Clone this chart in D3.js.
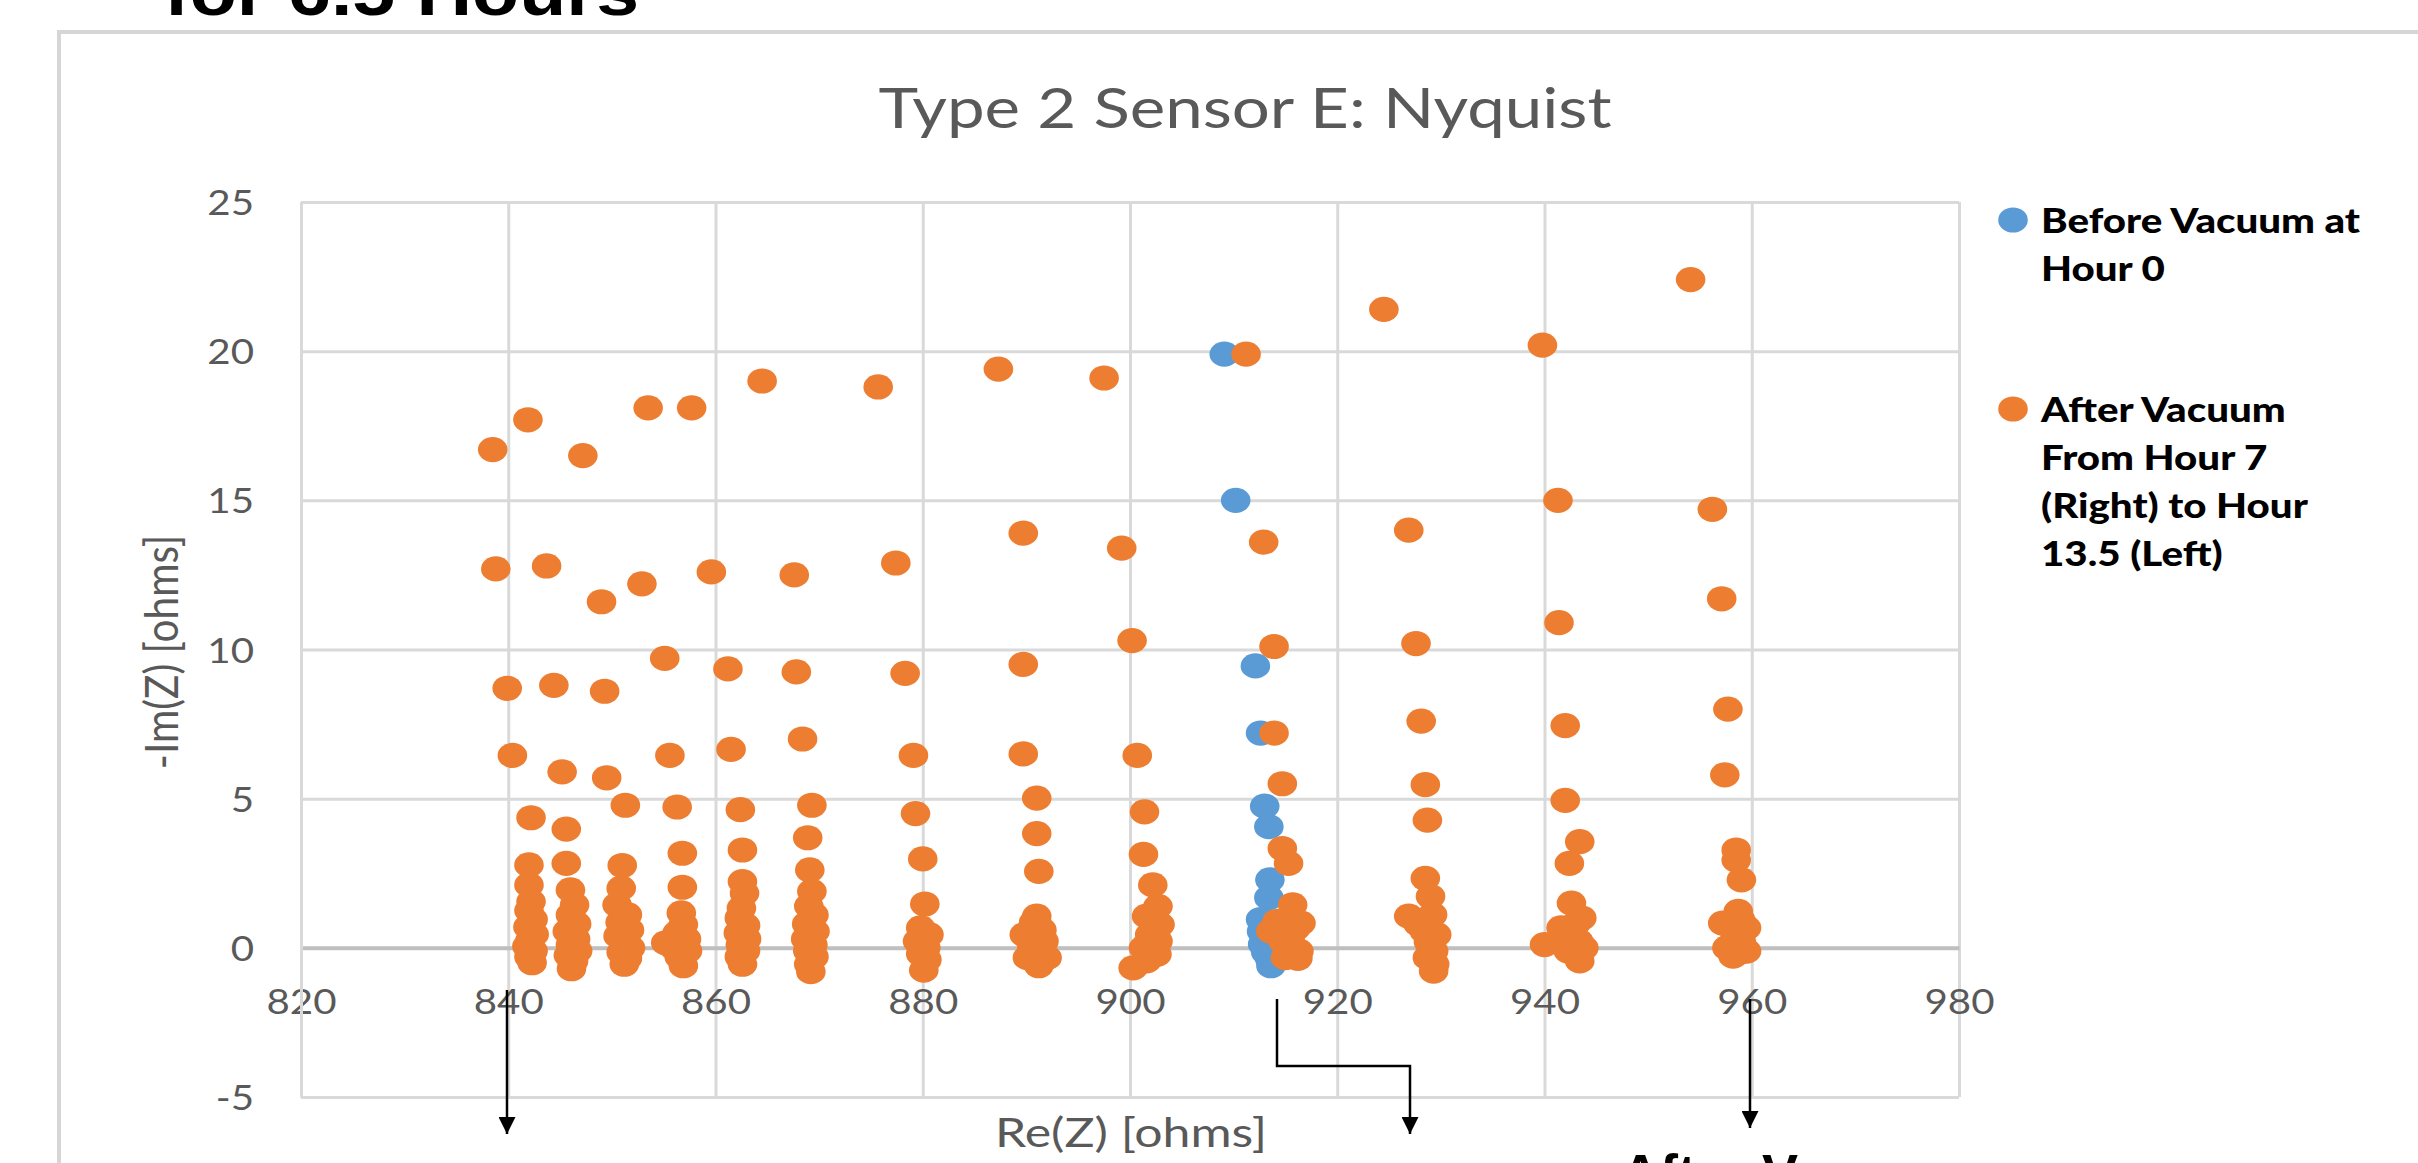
<!DOCTYPE html>
<html>
<head>
<meta charset="utf-8">
<script src="https://cdn.jsdelivr.net/npm/d3@7"></script>
<style>
  body { margin: 0; background: #fff; overflow: hidden; }
  text { font-family: Lato, "Open Sans", sans-serif; }
</style>
</head>
<body>
<svg id="chart" width="2418" height="1163"></svg>
<script>
// ---- data ----
const xTicks = [820, 840, 860, 880, 900, 920, 940, 960, 980];
const yTicks = [-5, 0, 5, 10, 15, 20, 25];
const seriesLabels = [
  ["Before Vacuum at", "Hour 0"],
  ["After Vacuum", "From Hour 7", "(Right) to Hour", "13.5 (Left)"]
];

// [Re(Z), -Im(Z)]
const beforeVacuum = [
  [909.1, 19.9], [910.2, 15.0], [912.1, 9.45], [912.6, 7.2], [913.0, 4.75], [913.4, 4.06],
  [913.5, 2.28], [913.4, 1.68], [912.6, 0.95], [912.7, 0.55], [912.8, 0.12], [913.1, -0.15],
  [913.5, -0.38], [913.6, -0.6]
];

// one sweep per line, left (hour 13.5) to right (hour 7)
const afterVacuum = [
  [838.5,16.7],[838.8,12.7],[839.9,8.7],[840.4,6.45],[842.2,4.36],[842.0,2.78],[842.0,2.11],[842.2,1.55],[842.0,1.25],[842.4,0.95],[841.9,0.7],[842.5,0.45],[842.1,0.25],[841.8,0.05],[842.4,-0.1],[842.0,-0.3],[842.3,-0.5],
  [841.9,17.7],[843.7,12.8],[844.4,8.8],[845.2,5.9],[845.6,3.98],[845.6,2.83],[846.0,1.94],[846.4,1.44],[846.0,1.1],[846.6,0.8],[845.7,0.55],[846.5,0.3],[846.0,0.1],[846.7,-0.1],[845.8,-0.25],[846.3,-0.45],[846.1,-0.7],
  [847.2,16.5],[849.0,11.6],[849.3,8.6],[849.5,5.7],[851.3,4.78],[851.0,2.76],[850.9,2.0],[850.5,1.44],[851.5,1.11],[850.8,0.85],[851.7,0.6],[850.6,0.4],[851.4,0.2],[851.8,0.0],[850.9,-0.15],[851.5,-0.35],[851.2,-0.55],
  [853.5,18.1],[852.9,12.2],[855.1,9.7],[855.6,6.45],[856.3,4.72],[856.8,3.17],[856.8,2.03],[856.7,1.17],[856.9,0.78],[856.3,0.5],[857.2,0.3],[855.2,0.17],[856.0,0.0],[857.3,-0.1],[856.5,-0.3],[856.9,-0.6],
  [857.7,18.1],[859.6,12.6],[861.2,9.35],[861.5,6.65],[862.4,4.63],[862.6,3.28],[862.6,2.22],[862.8,1.83],[862.5,1.33],[862.3,1.0],[862.9,0.75],[862.2,0.5],[863.0,0.3],[862.4,0.1],[862.9,-0.1],[862.3,-0.3],[862.6,-0.55],
  [864.5,19.0],[867.6,12.5],[867.8,9.25],[868.4,7.0],[869.3,4.78],[868.9,3.69],[869.1,2.61],[869.3,1.89],[869.0,1.4],[869.5,1.1],[868.8,0.8],[869.6,0.55],[868.7,0.3],[869.4,0.1],[868.9,-0.1],[869.5,-0.3],[869.0,-0.55],[869.2,-0.8],
  [875.7,18.8],[877.4,12.9],[878.3,9.2],[879.1,6.45],[879.3,4.5],[880.0,2.98],[880.2,1.47],[879.8,0.67],[880.6,0.44],[879.5,0.22],[880.3,0.0],[879.8,-0.2],[880.4,-0.4],[880.1,-0.75],
  [887.3,19.4],[889.7,13.9],[889.7,9.5],[889.7,6.5],[891.0,5.02],[891.0,3.83],[891.2,2.56],[891.0,1.06],[890.7,0.85],[891.5,0.6],[889.8,0.44],[891.7,0.22],[890.5,0.1],[891.0,-0.1],[890.1,-0.33],[892.0,-0.33],[891.2,-0.6],
  [897.5,19.1],[899.2,13.4],[900.2,10.3],[900.7,6.45],[901.4,4.56],[901.3,3.13],[902.2,2.11],[902.7,1.39],[901.6,1.06],[902.9,0.78],[901.9,0.44],[902.7,0.22],[901.3,0.0],[902.6,-0.22],[901.6,-0.44],[900.3,-0.67],
  [911.2,19.9],[912.9,13.6],[913.9,10.1],[913.9,7.2],[914.7,5.5],[914.7,3.33],[915.3,2.83],[915.7,1.44],[916.5,0.83],[914.2,0.89],[916.0,0.65],[913.6,0.56],[915.5,0.44],[914.8,0.2],[915.6,0.1],[916.3,-0.11],[915.0,-0.33],[916.2,-0.35],
  [924.5,21.4],[926.9,14.0],[927.6,10.2],[928.1,7.6],[928.5,5.47],[928.7,4.28],[928.5,2.33],[929.0,1.72],[929.2,1.11],[926.9,1.06],[927.8,0.8],[928.4,0.56],[929.6,0.44],[928.8,0.2],[929.3,-0.11],[928.7,-0.33],[929.4,-0.55],[929.3,-0.78],
  [939.8,20.2],[941.3,15.0],[941.4,10.9],[942.0,7.45],[942.0,4.94],[943.4,3.56],[942.4,2.83],[942.6,1.5],[943.6,1.0],[943.0,0.8],[941.6,0.67],[942.5,0.4],[943.3,0.22],[940.0,0.11],[943.8,0.0],[942.3,-0.11],[943.4,-0.44],
  [954.1,22.4],[956.2,14.7],[957.1,11.7],[957.7,8.0],[957.4,5.8],[958.5,3.28],[958.5,2.94],[959.0,2.28],[958.7,1.22],[958.9,0.95],[957.2,0.83],[959.5,0.67],[958.4,0.4],[959.0,0.2],[957.6,0.0],[959.5,-0.11],[958.8,-0.15],[958.2,-0.28]
];

const colors = ["#5B9BD5", "#ED7D31"];
const SX = 1.15; // the source screenshot is stretched sideways

const svg = d3.select("#chart");

// slide bits around the chart
svg.append("text")
  .attr("x", 164).attr("y", 15)
  .attr("textLength", 475).attr("lengthAdjust", "spacingAndGlyphs")
  .style("font-family", '"Liberation Sans Narrow", "Liberation Sans", sans-serif')
  .style("font-weight", "bold").style("font-size", "66px").style("fill", "#000")
  .text("for 6.5 Hours");

svg.append("rect")
  .attr("x", 59).attr("y", 32).attr("width", 2500).attr("height", 1300)
  .attr("fill", "#fff").attr("stroke", "#d6d6d6").attr("stroke-width", 4);

const margin = {left: 301, top: 202};
const width = 1959 - 301, height = 1097 - 202;

const x = d3.scaleLinear().domain([820, 980]).range([0, width]);
const y = d3.scaleLinear().domain([-5, 25]).range([height, 0]);

const g = svg.append("g").attr("transform", "translate(" + margin.left + "," + margin.top + ")");

// gridlines
g.append("g")
  .attr("transform", "translate(0," + height + ")")
  .call(d3.axisBottom(x).tickValues(xTicks).tickSize(-height).tickFormat(""))
  .call(a => a.select(".domain").remove())
  .call(a => a.selectAll("line").attr("stroke", "#d9d9d9").attr("stroke-width", 3));

g.append("g")
  .call(d3.axisLeft(y).tickValues(yTicks).tickSize(-width).tickFormat(""))
  .call(a => a.select(".domain").remove())
  .call(a => a.selectAll("line").attr("stroke", "#d9d9d9").attr("stroke-width", 3));

// horizontal axis sits on -Im = 0
const xAxis = g.append("g")
  .attr("transform", "translate(0," + y(0) + ")")
  .call(d3.axisBottom(x).tickValues(xTicks).tickSize(0).tickFormat(d => String(d)));
xAxis.select(".domain").attr("stroke", "#bfbfbf").attr("stroke-width", 4);
xAxis.selectAll("text")
  .attr("y", 0).attr("dy", 0)
  .attr("transform", "translate(0,66) scale(" + SX + ",1)")
  .style("font-size", "35px").style("fill", "#595959");

const yAxis = g.append("g")
  .call(d3.axisLeft(y).tickValues(yTicks).tickSize(0).tickFormat(d => String(d)));
yAxis.select(".domain").attr("stroke", "#d9d9d9").attr("stroke-width", 3);
yAxis.selectAll("text")
  .attr("x", 0).attr("dy", "0.36em")
  .attr("transform", "translate(-47,0) scale(" + SX + ",1)")
  .style("font-size", "35px").style("fill", "#595959");

// markers
const series = [beforeVacuum, afterVacuum];
series.forEach((data, i) => {
  g.append("g").selectAll("ellipse")
    .data(data)
    .join("ellipse")
    .attr("cx", d => x(d[0]))
    .attr("cy", d => y(d[1]))
    .attr("rx", 14.8).attr("ry", 12.6)
    .attr("fill", colors[i]);
});

// titles
svg.append("text")
  .attr("transform", "translate(1245,128) scale(1.2,1)")
  .attr("text-anchor", "middle")
  .style("font-size", "56px").style("fill", "#595959")
  .text("Type 2 Sensor E: Nyquist");

svg.append("text")
  .attr("transform", "translate(1131,1147) scale(1.25,1)")
  .attr("text-anchor", "middle")
  .style("font-size", "40px").style("fill", "#595959")
  .text("Re(Z) [ohms]");

svg.append("text")
  .attr("transform", "translate(178,652) scale(" + SX + ",1) rotate(-90)")
  .attr("text-anchor", "middle")
  .style("font-size", "40.5px").style("fill", "#595959")
  .text("-Im(Z) [ohms]");

// legend
const legendY = [220, 409];
seriesLabels.forEach((lines, i) => {
  svg.append("ellipse")
    .attr("cx", 2013).attr("cy", legendY[i])
    .attr("rx", 14.8).attr("ry", 12.6)
    .attr("fill", colors[i]);
  const t = svg.append("text")
    .attr("transform", "translate(2041," + (legendY[i] + 13) + ") scale(1.15,1)")
    .style("font-size", "35px").style("font-weight", 900).style("fill", "#000");
  lines.forEach((s, k) => {
    t.append("tspan").attr("x", 0).attr("y", k * 48).text(s);
  });
});

// annotation arrows below the chart
const head = svg.append("defs").append("marker")
  .attr("id", "head").attr("viewBox", "0 0 10 10")
  .attr("refX", 10).attr("refY", 5)
  .attr("markerWidth", 17).attr("markerHeight", 17)
  .attr("markerUnits", "userSpaceOnUse")
  .attr("orient", "auto");
head.append("path").attr("d", "M0,0L10,5L0,10z").attr("fill", "#000");

const arrows = [
  [[507, 990], [507, 1134]],
  [[1277, 999], [1277, 1066], [1410, 1066], [1410, 1134]],
  [[1750, 999], [1750, 1128]]
];
arrows.forEach(pts => {
  svg.append("path")
    .attr("d", d3.line()(pts))
    .attr("fill", "none").attr("stroke", "#000").attr("stroke-width", 2.5)
    .attr("marker-end", "url(#head)");
});

svg.append("text")
  .attr("x", 1621).attr("y", 1192)
  .style("font-family", '"Liberation Sans Narrow", "Liberation Sans", sans-serif')
  .style("font-weight", "bold").style("font-size", "54px").style("fill", "#000")
  .text("After Vacuum");
</script>
</body>
</html>
